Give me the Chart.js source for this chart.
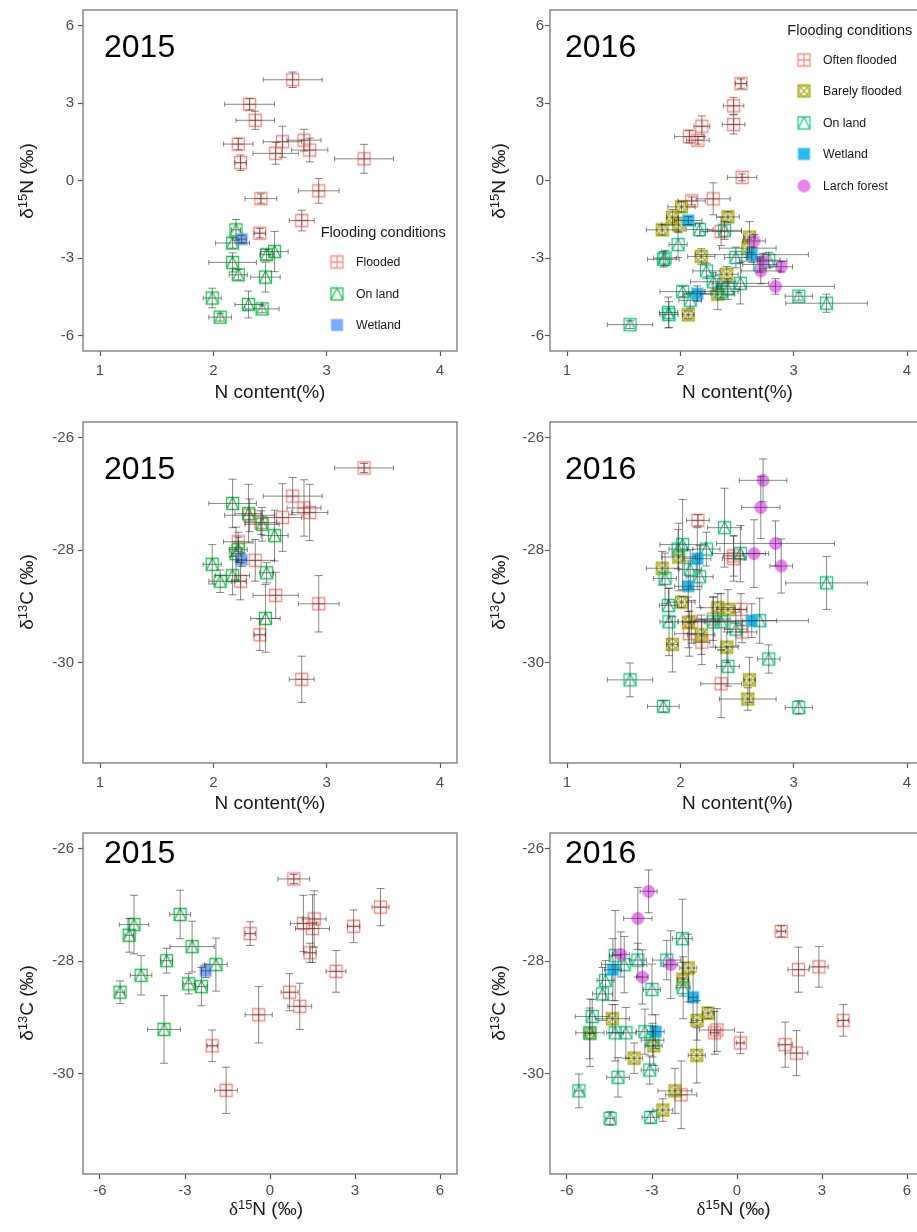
<!DOCTYPE html>
<html>
<head>
<meta charset="utf-8">
<script src="https://cdn.jsdelivr.net/npm/chart.js@4.4.1/dist/chart.umd.min.js"></script>
<style>
  html, body { margin: 0; padding: 0; background: #fff; }
  body { width: 917px; height: 1232px; overflow: hidden; position: relative;
         font-family: "Liberation Sans", Arial, sans-serif; }
  canvas { position: absolute; }
  .xt, .yt { position: absolute; font-size: 19px; color: #1a1a1a; white-space: nowrap; line-height: 1; }
  .xt { transform: translate(-50%, -50%); }
  .yt { transform: translate(-50%, -50%) rotate(-90deg); }
  .xt sup, .yt sup { font-size: 0.68em; vertical-align: 0; position: relative; top: -0.5em; }
  .serif { font-family: "Liberation Serif", "DejaVu Serif", serif; }
  .year { position: absolute; font-size: 32px; line-height: 32px; color: #000; }
  .lg-title { position: absolute; font-size: 14.5px; line-height: 1; color: #1a1a1a; transform: translateY(-50%); white-space: nowrap; }
  .lg-text { position: absolute; font-size: 12.3px; line-height: 1; color: #1a1a1a; transform: translateY(-50%); white-space: nowrap; }
  .lg-key { position: absolute; transform: translate(-50%, -50%); }
</style>
</head>
<body>
<script>
// Each sample: [N content %, N sd, δ15N ‰, δ15N sd, δ13C ‰, δ13C sd]
const flooded2015 = [
  [2.70, 0.26, 3.90, 0.30, -27.04, 0.33],
  [2.32, 0.22, 2.95, 0.22, -27.38, 0.29],
  [2.37, 0.17, 2.33, 0.35, -28.18, 0.37],
  [2.22, 0.13, 1.41, 0.22, -27.85, 0.17],
  [2.24, 0.05, 0.69, 0.30, -28.55, 0.33],
  [2.61, 0.17, 1.50, 0.60, -27.42, 0.60],
  [2.55, 0.20, 1.05, 0.42, -28.80, 0.41],
  [2.80, 0.15, 1.56, 0.42, -27.25, 0.50],
  [2.85, 0.16, 1.18, 0.46, -27.33, 0.50],
  [3.33, 0.26, 0.84, 0.56, -26.54, 0.08],
  [2.93, 0.18, -0.40, 0.48, -28.95, 0.50],
  [2.42, 0.14, -0.70, 0.18, -27.51, 0.21],
  [2.78, 0.11, -1.55, 0.40, -30.29, 0.41],
  [2.41, 0.05, -2.04, 0.18, -29.50, 0.28]
];
const onLand2015 = [
  [2.20, 0.04, -1.91, 0.40, -28.06, 0.47],
  [2.17, 0.15, -2.42, 0.20, -28.45, 0.34],
  [2.17, 0.21, -3.17, 0.37, -27.17, 0.43],
  [2.22, 0.08, -3.65, 0.20, -27.99, 0.22],
  [2.47, 0.06, -2.87, 0.20, -28.40, 0.18],
  [2.54, 0.12, -2.75, 0.78, -27.74, 0.45],
  [2.46, 0.13, -3.74, 0.58, -29.21, 0.60],
  [1.99, 0.08, -4.55, 0.38, -28.25, 0.35],
  [2.06, 0.10, -5.29, 0.15, -28.55, 0.20],
  [2.31, 0.12, -4.80, 0.52, -27.35, 0.52],
  [2.43, 0.15, -4.97, 0.15, -27.54, 0.30]
];
const wetland2015 = [
  [2.25, 0.04, -2.27, 0.15, -28.17, 0.12]
];

const oftenFlooded2016 = [
  [2.535, 0.05, 3.75, 0.18, -29.05, 0.28],
  [2.47, 0.09, 2.89, 0.33, -28.10, 0.36],
  [2.47, 0.10, 2.17, 0.37, -28.15, 0.40],
  [2.19, 0.07, 2.10, 0.40, -29.63, 0.40],
  [2.08, 0.13, 1.70, 0.25, -29.48, 0.40],
  [2.155, 0.10, 1.56, 0.15, -27.47, 0.10],
  [2.545, 0.13, 0.12, 0.13, -29.45, 0.19],
  [2.29, 0.15, -0.71, 0.62, -29.22, 0.38],
  [2.10, 0.12, -0.79, 0.15, -29.27, 0.38],
  [2.36, 0.18, -1.97, 0.55, -30.37, 0.60]
];
const barelyFlooded2016 = [
  [2.07, 0.05, -5.20, 0.15, -29.28, 0.45],
  [2.33, 0.15, -4.40, 0.60, -29.02, 0.25],
  [2.41, 0.10, -3.63, 0.30, -29.72, 0.27],
  [2.185, 0.12, -2.94, 0.30, -29.50, 0.35],
  [2.595, 0.25, -2.62, 0.35, -30.64, 0.20],
  [2.61, 0.05, -2.19, 0.60, -30.30, 0.40],
  [1.84, 0.14, -1.91, 0.20, -28.32, 0.30],
  [1.985, 0.15, -1.72, 0.30, -28.12, 0.60],
  [1.93, 0.05, -1.42, 0.30, -29.67, 0.49],
  [2.42, 0.10, -1.41, 0.20, -29.05, 0.35],
  [2.01, 0.12, -1.02, 0.20, -28.92, 0.10]
];
const onLand2016 = [
  [1.556, 0.20, -5.58, 0.15, -30.30, 0.30],
  [1.85, 0.14, -3.05, 0.30, -30.77, 0.10],
  [3.045, 0.12, -4.48, 0.15, -30.79, 0.12],
  [3.29, 0.36, -4.75, 0.35, -28.58, 0.47],
  [2.78, 0.10, -3.08, 0.30, -29.93, 0.25],
  [2.42, 0.10, -4.20, 0.40, -30.06, 0.35],
  [2.39, 0.15, -1.93, 0.35, -27.60, 0.70],
  [1.895, 0.08, -5.11, 0.60, -28.98, 0.30],
  [1.98, 0.08, -2.48, 0.50, -27.98, 0.35],
  [2.49, 0.10, -2.98, 0.40, -29.40, 0.30],
  [2.53, 0.25, -3.98, 0.80, -28.06, 0.50],
  [2.23, 0.12, -3.50, 0.30, -27.98, 0.30],
  [2.087, 0.10, -4.64, 0.30, -28.34, 0.35],
  [2.02, 0.20, -4.30, 0.20, -27.90, 0.80],
  [2.36, 0.15, -4.30, 0.30, -29.27, 0.50],
  [2.29, 0.20, -3.92, 0.35, -29.27, 0.45],
  [1.90, 0.08, -5.19, 0.50, -29.27, 0.60],
  [2.70, 0.15, -3.25, 0.30, -29.25, 0.40],
  [1.865, 0.10, -3.00, 0.30, -28.50, 0.45],
  [2.17, 0.12, -1.90, 0.25, -28.47, 0.55]
];
const wetland2016 = [
  [2.07, 0.12, -1.55, 0.15, -28.64, 0.45],
  [2.63, 0.50, -2.87, 0.30, -29.25, 0.30],
  [2.15, 0.12, -4.38, 0.30, -28.15, 0.55]
];
const larchForest2016 = [
  [2.73, 0.21, -3.12, 0.30, -26.76, 0.38],
  [2.71, 0.17, -3.50, 0.50, -27.24, 0.55],
  [2.84, 0.52, -4.10, 0.30, -27.88, 0.40],
  [2.65, 0.10, -2.34, 0.25, -28.06, 0.60],
  [2.89, 0.10, -3.34, 0.20, -28.28, 0.48]
];

// Axis limits and tick marks
const nLimits = [0.85, 4.15];
const d15Limits = [-6.6, 6.6];
const d13Limits = [-31.775, -25.725];
const nTicks = [1, 2, 3, 4];
const d15Ticks = [-6, -3, 0, 3, 6];
const d13Ticks = [-30, -28, -26];

const years = ['2015', '2016'];
const legendTitle = 'Flooding conditions';
const labels2015 = ['Flooded', 'On land', 'Wetland'];
const labels2016 = ['Often flooded', 'Barely flooded', 'On land', 'Wetland', 'Larch forest'];

// Column indices inside a sample row
const N = 0, D15 = 2, D13 = 4;

const FONT = '"Liberation Sans", Arial, sans-serif';

// Draw a ggplot-like point symbol onto a small canvas
function glyph(shape, color) {
  const c = document.createElement('canvas');
  c.width = 17; c.height = 17;
  const g = c.getContext('2d');
  const a = 2.5, b = 14.5, m = 8.5;
  g.strokeStyle = color; g.fillStyle = color; g.lineWidth = 1.3;
  g.globalAlpha = 0.85;
  g.beginPath();
  if (shape === 'plus') {
    g.rect(a, a, b - a, b - a);
    g.moveTo(m, a); g.lineTo(m, b);
    g.moveTo(a, m); g.lineTo(b, m);
    g.stroke();
  } else if (shape === 'tri') {
    g.rect(a, a, b - a, b - a);
    g.moveTo(a, b); g.lineTo(m, a); g.lineTo(b, b);
    g.stroke();
  } else if (shape === 'xcircle') {
    g.rect(a, a, b - a, b - a);
    g.moveTo(a, a); g.lineTo(b, b);
    g.moveTo(b, a); g.lineTo(a, b);
    g.moveTo(m + 5, m); g.arc(m, m, 5, 0, Math.PI * 2);
    g.stroke();
  } else if (shape === 'square') {
    g.fillRect(2.5, 2.5, 12, 12);
  } else if (shape === 'dot') {
    g.arc(m, m, 6.5, 0, Math.PI * 2);
    g.fill();
  }
  return c;
}

const groups2015 = [
  { label: labels2015[0], rows: flooded2015, shape: 'plus', color: '#F8766D' },
  { label: labels2015[1], rows: onLand2015, shape: 'tri', color: '#00BA38' },
  { label: labels2015[2], rows: wetland2015, shape: 'square', color: '#619CFF' }
];
const groups2016 = [
  { label: labels2016[0], rows: oftenFlooded2016, shape: 'plus', color: '#F8766D' },
  { label: labels2016[1], rows: barelyFlooded2016, shape: 'xcircle', color: '#A3A500' },
  { label: labels2016[2], rows: onLand2016, shape: 'tri', color: '#00BF7D' },
  { label: labels2016[3], rows: wetland2016, shape: 'square', color: '#00B0F6' },
  { label: labels2016[4], rows: larchForest2016, shape: 'dot', color: '#E76BF3' }
];

// Horizontal and vertical error bars, placed through the chart's own scales
const errorBars = {
  id: 'errorBars',
  afterDatasetsDraw(chart) {
    const { ctx } = chart;
    const xs = chart.scales.x, ys = chart.scales.y;
    ctx.save();
    ctx.strokeStyle = 'rgba(40,40,40,0.55)';
    ctx.lineWidth = 1;
    chart.data.datasets.forEach(ds => ds.data.forEach(p => {
      const px = xs.getPixelForValue(p.x), py = ys.getPixelForValue(p.y);
      const xl = xs.getPixelForValue(p.x - p.xErr), xr = xs.getPixelForValue(p.x + p.xErr);
      const yb = ys.getPixelForValue(p.y - p.yErr), yt = ys.getPixelForValue(p.y + p.yErr);
      ctx.beginPath();
      ctx.moveTo(xl, py); ctx.lineTo(xr, py);
      ctx.moveTo(xl, py - 2.5); ctx.lineTo(xl, py + 2.5);
      ctx.moveTo(xr, py - 2.5); ctx.lineTo(xr, py + 2.5);
      ctx.moveTo(px, yb); ctx.lineTo(px, yt);
      ctx.moveTo(px - 4, yb); ctx.lineTo(px + 4, yb);
      ctx.moveTo(px - 4, yt); ctx.lineTo(px + 4, yt);
      ctx.stroke();
    }));
    ctx.restore();
  }
};

// Panel border
const frame = {
  id: 'frame',
  beforeDatasetsDraw(chart) {
    const { ctx, chartArea: a } = chart;
    ctx.save();
    ctx.strokeStyle = '#808080';
    ctx.lineWidth = 1.4;
    ctx.strokeRect(a.left, a.top, a.right - a.left, a.bottom - a.top);
    ctx.restore();
  }
};

const colLeft = [0, 467];
const rowTop = [0, 412, 823];

function axis(limits, ticks, isX, tickPad) {
  return {
    type: 'linear',
    min: limits[0], max: limits[1],
    afterBuildTicks: s => { s.ticks = ticks.map(v => ({ value: v })); },
    afterFit: s => {
      if (isX) { s.height = 30; s.paddingLeft = 0; s.paddingRight = 0; }
      else { s.width = 83; s.paddingTop = 0; s.paddingBottom = 0; }
    },
    grid: { display: true, drawOnChartArea: false, drawTicks: true, tickLength: 5,
            tickColor: '#5a5a5a', tickWidth: 1.2, color: '#5a5a5a' },
    border: { display: false },
    ticks: { font: { family: FONT, size: 15 }, color: '#4d4d4d', padding: tickPad,
             maxRotation: 0, autoSkip: false }
  };
}

function makePanel(col, row, groups, xi, yi, xLim, yLim, xTicks, yTicks) {
  const cv = document.createElement('canvas');
  cv.width = 464; cv.height = 381;
  cv.style.left = colLeft[col] + 'px';
  cv.style.top = rowTop[row] + 'px';
  document.body.appendChild(cv);
  const datasets = groups.map((g, i) => ({
    label: g.label,
    data: g.rows.map(r => ({ x: r[xi], y: r[yi], xErr: r[xi + 1], yErr: r[yi + 1] })),
    pointStyle: glyph(g.shape, g.color),
    pointRadius: 6,
    order: groups.length - i
  }));
  new Chart(cv, {
    type: 'scatter',
    data: { datasets },
    options: {
      responsive: false, animation: false, devicePixelRatio: 1, events: [],
      layout: { padding: { top: 10, right: 3, left: 0, bottom: 0 } },
      plugins: { legend: { display: false }, tooltip: { enabled: false } },
      scales: {
        x: axis(xLim, xTicks, true, row === 2 ? 3 : 6),
        y: axis(yLim, yTicks, false, col === 0 ? 4 : 1)
      }
    },
    plugins: [frame, errorBars]
  });
}

[groups2015, groups2016].forEach((groups, col) => {
  makePanel(col, 0, groups, N, D15, nLimits, d15Limits, nTicks, d15Ticks);
  makePanel(col, 1, groups, N, D13, nLimits, d13Limits, nTicks, d13Ticks);
  makePanel(col, 2, groups, D15, D13, d15Limits, d13Limits, d15Ticks, d13Ticks);
});

function addText(cls, html, left, top) {
  const d = document.createElement('div');
  d.className = cls;
  d.innerHTML = html;
  d.style.left = left + 'px';
  d.style.top = top + 'px';
  document.body.appendChild(d);
  return d;
}

// Axis titles
const nTitle = 'N content(%)';
const d15Title = '&delta;<sup>15</sup>N (&permil;)';
const d15TitleSerif = '<span class="serif">&delta;</span><sup>15</sup>N (&permil;)';
const d13Title = '&delta;<sup>13</sup>C (&permil;)';
const xTitleCx = [270, 737.5];
const yTitleCx = [25.5, 497.5];
[0, 1].forEach(col => {
  addText('xt', nTitle, xTitleCx[col], 390.5);
  addText('xt', nTitle, xTitleCx[col], 802);
  addText('xt', d15TitleSerif, xTitleCx[col] - 4, 1208);
  addText('yt', d15Title, yTitleCx[col], 180.5);
  addText('yt', d13Title, yTitleCx[col], 592);
  addText('yt', d13Title, yTitleCx[col], 1003);
});

// Year labels
const yearLeft = [104, 565];
const yearTop = [29.6, 452.2, 836.2];
[0, 1].forEach(col => yearTop.forEach(t => addText('year', years[col], yearLeft[col], t)));

// Legends
function legend(groups, titleLeft, titleCy, keyCx, textLeft, rowCy) {
  addText('lg-title', legendTitle, titleLeft, titleCy);
  groups.forEach((g, i) => {
    const k = glyph(g.shape, g.color);
    k.className = 'lg-key';
    k.style.left = keyCx + 'px';
    k.style.top = rowCy[i] + 'px';
    document.body.appendChild(k);
    addText('lg-text', g.label, textLeft, rowCy[i]);
  });
}
legend(groups2015, 320.7, 232, 336.7, 356, [262.3, 294, 325.3]);
legend(groups2016, 787.3, 29.5, 804, 823, [59.5, 90.5, 122.5, 153.8, 185.5]);
</script>
</body>
</html>
